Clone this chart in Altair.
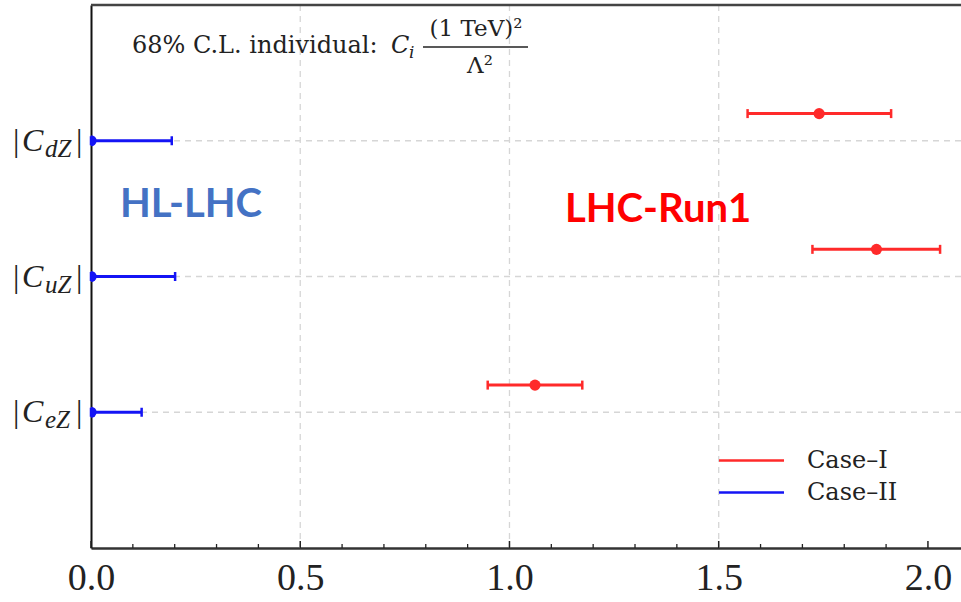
import altair as alt
import pandas as pd

# ---- data ----
coef_sub = ["eZ", "uZ", "dZ"]
coef_pos = [0, 1, 2]
case1_center = [1.061, 1.877, 1.740]
case1_low = [0.948, 1.724, 1.569]
case1_high = [1.174, 2.029, 1.912]
case2_center = [0.0, 0.0, 0.0]
case2_low = [0.0, 0.0, 0.0]
case2_high = [0.121, 0.201, 0.193]
cases = ["Case\u2013I", "Case\u2013II"]
case_offset = [0.2, 0.0]
case_colors = ["#ff2a2a", "#1414f5"]
x_major = [0.0, 0.5, 1.0, 1.5, 2.0]
x_minor = [0.1, 0.2, 0.3, 0.4, 0.6, 0.7, 0.8, 0.9, 1.1, 1.2, 1.3, 1.4,
           1.6, 1.7, 1.8, 1.9]
x_grid = [0.5, 1.0, 1.5]

rows = []
for ci, (cen, lo, hi) in enumerate([(case1_center, case1_low, case1_high),
                                      (case2_center, case2_low, case2_high)]):
    for i in range(len(coef_pos)):
        rows.append({"case": cases[ci], "y": coef_pos[i] + case_offset[ci],
                     "center": cen[i], "low": lo[i], "high": hi[i]})
df = pd.DataFrame(rows)
lab_df = pd.DataFrame({"pos": coef_pos, "sub": coef_sub})
gx_df = pd.DataFrame({"x": x_grid})
gy_df = pd.DataFrame({"y": coef_pos})
maj_df = pd.DataFrame({"x": x_major})
min_df = pd.DataFrame({"x": x_minor})
one = pd.DataFrame({"k": [0]})

W, H = 870, 543
xs = alt.Scale(domain=[0, 2.079], nice=False, zero=False)
ys = alt.Scale(domain=[-1, 3], nice=False, zero=False)
xaxis = alt.Axis(values=x_major, format=".1f", title=None, grid=False, ticks=False,
                 domain=True, domainColor="#333", domainWidth=2.5,
                 labelFont="Liberation Serif", labelFontSize=38, labelColor="#222",
                 labelPadding=11, labelFlush=False)
yaxis = alt.Axis(values=[], title=None, grid=False, ticks=False, labels=False,
                 domain=True, domainColor="#111", domainWidth=2)
cscale = alt.Scale(domain=cases, range=case_colors)
leg = alt.Legend(title=None, orient="none", legendX=648, legendY=443,
                 symbolType="M-3,0L3,0", symbolSize=470, symbolStrokeWidth=2.5,
                 symbolOpacity=1,
                 labelFont="DejaVu Serif", labelFontSize=24, labelColor="#222",
                 labelOffset=43, rowPadding=7, padding=0)
color = alt.Color("case:N", scale=cscale, legend=leg)

base = alt.Chart(df)

grid_v = alt.Chart(gx_df).mark_rule(color="#d6d6d6", strokeDash=[6, 5], strokeWidth=1.3).encode(
    x=alt.X("x:Q", scale=xs, axis=xaxis))
grid_h = alt.Chart(gy_df).mark_rule(color="#d6d6d6", strokeDash=[6, 5], strokeWidth=1.3).encode(
    y=alt.Y("y:Q", scale=ys, axis=yaxis))

bars = base.mark_rule(strokeWidth=3, opacity=1).encode(
    x=alt.X("low:Q", scale=xs, axis=xaxis), x2="high:Q",
    y=alt.Y("y:Q", scale=ys, axis=yaxis), color=color)
cap_lo = base.mark_tick(orient="vertical", size=9, thickness=2.5, opacity=1).encode(
    x=alt.X("low:Q", scale=xs, axis=xaxis), y=alt.Y("y:Q", scale=ys, axis=yaxis), color=color)
cap_hi = base.mark_tick(orient="vertical", size=9, thickness=2.5, opacity=1).encode(
    x=alt.X("high:Q", scale=xs, axis=xaxis), y=alt.Y("y:Q", scale=ys, axis=yaxis), color=color)
pts = base.mark_circle(size=125, opacity=1, clip=True).encode(
    x=alt.X("center:Q", scale=xs, axis=xaxis), y=alt.Y("y:Q", scale=ys, axis=yaxis), color=color)

maj_ticks = alt.Chart(maj_df).mark_rule(color="#222", strokeWidth=1.5).encode(
    x=alt.X("x:Q", scale=xs, axis=xaxis), y=alt.value(H), y2=alt.value(H - 7))
min_ticks = alt.Chart(min_df).mark_rule(color="#222", strokeWidth=1.3).encode(
    x=alt.X("x:Q", scale=xs, axis=xaxis), y=alt.value(H), y2=alt.value(H - 4))
top_border = alt.Chart(one).mark_rule(color="#444", strokeWidth=2.5).encode(
    x=alt.value(0), x2=alt.value(W), y=alt.value(0))

# y tick labels |C_sub|
lab = alt.Chart(lab_df)
ybar1 = lab.mark_text(align="left", baseline="middle", font="Liberation Serif",
                      fontSize=32, color="#222").encode(
    x=alt.value(-78), y=alt.Y("pos:Q", scale=ys, axis=yaxis), text=alt.value("|"))
yC = lab.mark_text(align="left", baseline="middle", font="Liberation Serif", fontStyle="italic",
                   fontSize=32, color="#222").encode(
    x=alt.value(-69), y=alt.Y("pos:Q", scale=ys, axis=yaxis), text=alt.value("C"))
ysub = lab.mark_text(align="left", baseline="middle", font="Liberation Serif", fontStyle="italic",
                     fontSize=25, color="#222", dy=8).encode(
    x=alt.value(-46), y=alt.Y("pos:Q", scale=ys, axis=yaxis), text="sub:N")
ybar2 = lab.mark_text(align="left", baseline="middle", font="Liberation Serif",
                      fontSize=32, color="#222").encode(
    x=alt.value(-15), y=alt.Y("pos:Q", scale=ys, axis=yaxis), text=alt.value("|"))

# annotation at the top
ann_font = "DejaVu Serif"
a = alt.Chart(one)
ann1 = a.mark_text(align="left", baseline="middle", font=ann_font, fontSize=24,
                   color="#222").encode(
    x=alt.value(41), y=alt.value(41), text=alt.value("68% C.L. individual:"))
ann2 = a.mark_text(align="left", baseline="middle", font=ann_font, fontSize=24,
                   fontStyle="italic", color="#222").encode(
    x=alt.value(300), y=alt.value(41), text=alt.value("C"))
ann3 = a.mark_text(align="left", baseline="middle", font=ann_font, fontSize=17,
                   fontStyle="italic", color="#222").encode(
    x=alt.value(318), y=alt.value(48), text=alt.value("i"))
ann4 = a.mark_text(align="center", baseline="middle", font=ann_font, fontSize=23,
                   color="#222").encode(
    x=alt.value(385), y=alt.value(24), text=alt.value("(1 TeV)\u00b2"))
ann5 = a.mark_rule(color="#222", strokeWidth=1.3).encode(
    x=alt.value(332), x2=alt.value(437), y=alt.value(42))
ann6 = a.mark_text(align="center", baseline="middle", font=ann_font, fontSize=23,
                   color="#222").encode(
    x=alt.value(389), y=alt.value(61), text=alt.value("\u039b\u00b2"))

hl = a.mark_text(align="left", baseline="middle", font="Lato", fontWeight="bold",
                 fontSize=40, color="#4472c4").encode(
    x=alt.value(29), y=alt.value(200), text=alt.value("HL-LHC"))
run1 = a.mark_text(align="left", baseline="middle", font="Lato", fontWeight="bold",
                   fontSize=40, color="#ff0000").encode(
    x=alt.value(474), y=alt.value(205), text=alt.value("LHC-Run1"))

chart = alt.layer(
    grid_v, grid_h, min_ticks, maj_ticks, bars, cap_lo, cap_hi, pts, top_border,
    ybar1, yC, ysub, ybar2, ann1, ann2, ann3, ann4, ann5, ann6, hl, run1
).properties(
    width=W, height=H,
    autosize=alt.AutoSizeParams(type="none"),
    padding={"left": 91, "top": 5, "right": 0, "bottom": 54},
    background="white"
).configure_view(stroke=None)

chart.save("out.html", embed_options={"renderer": "svg", "actions": False})
